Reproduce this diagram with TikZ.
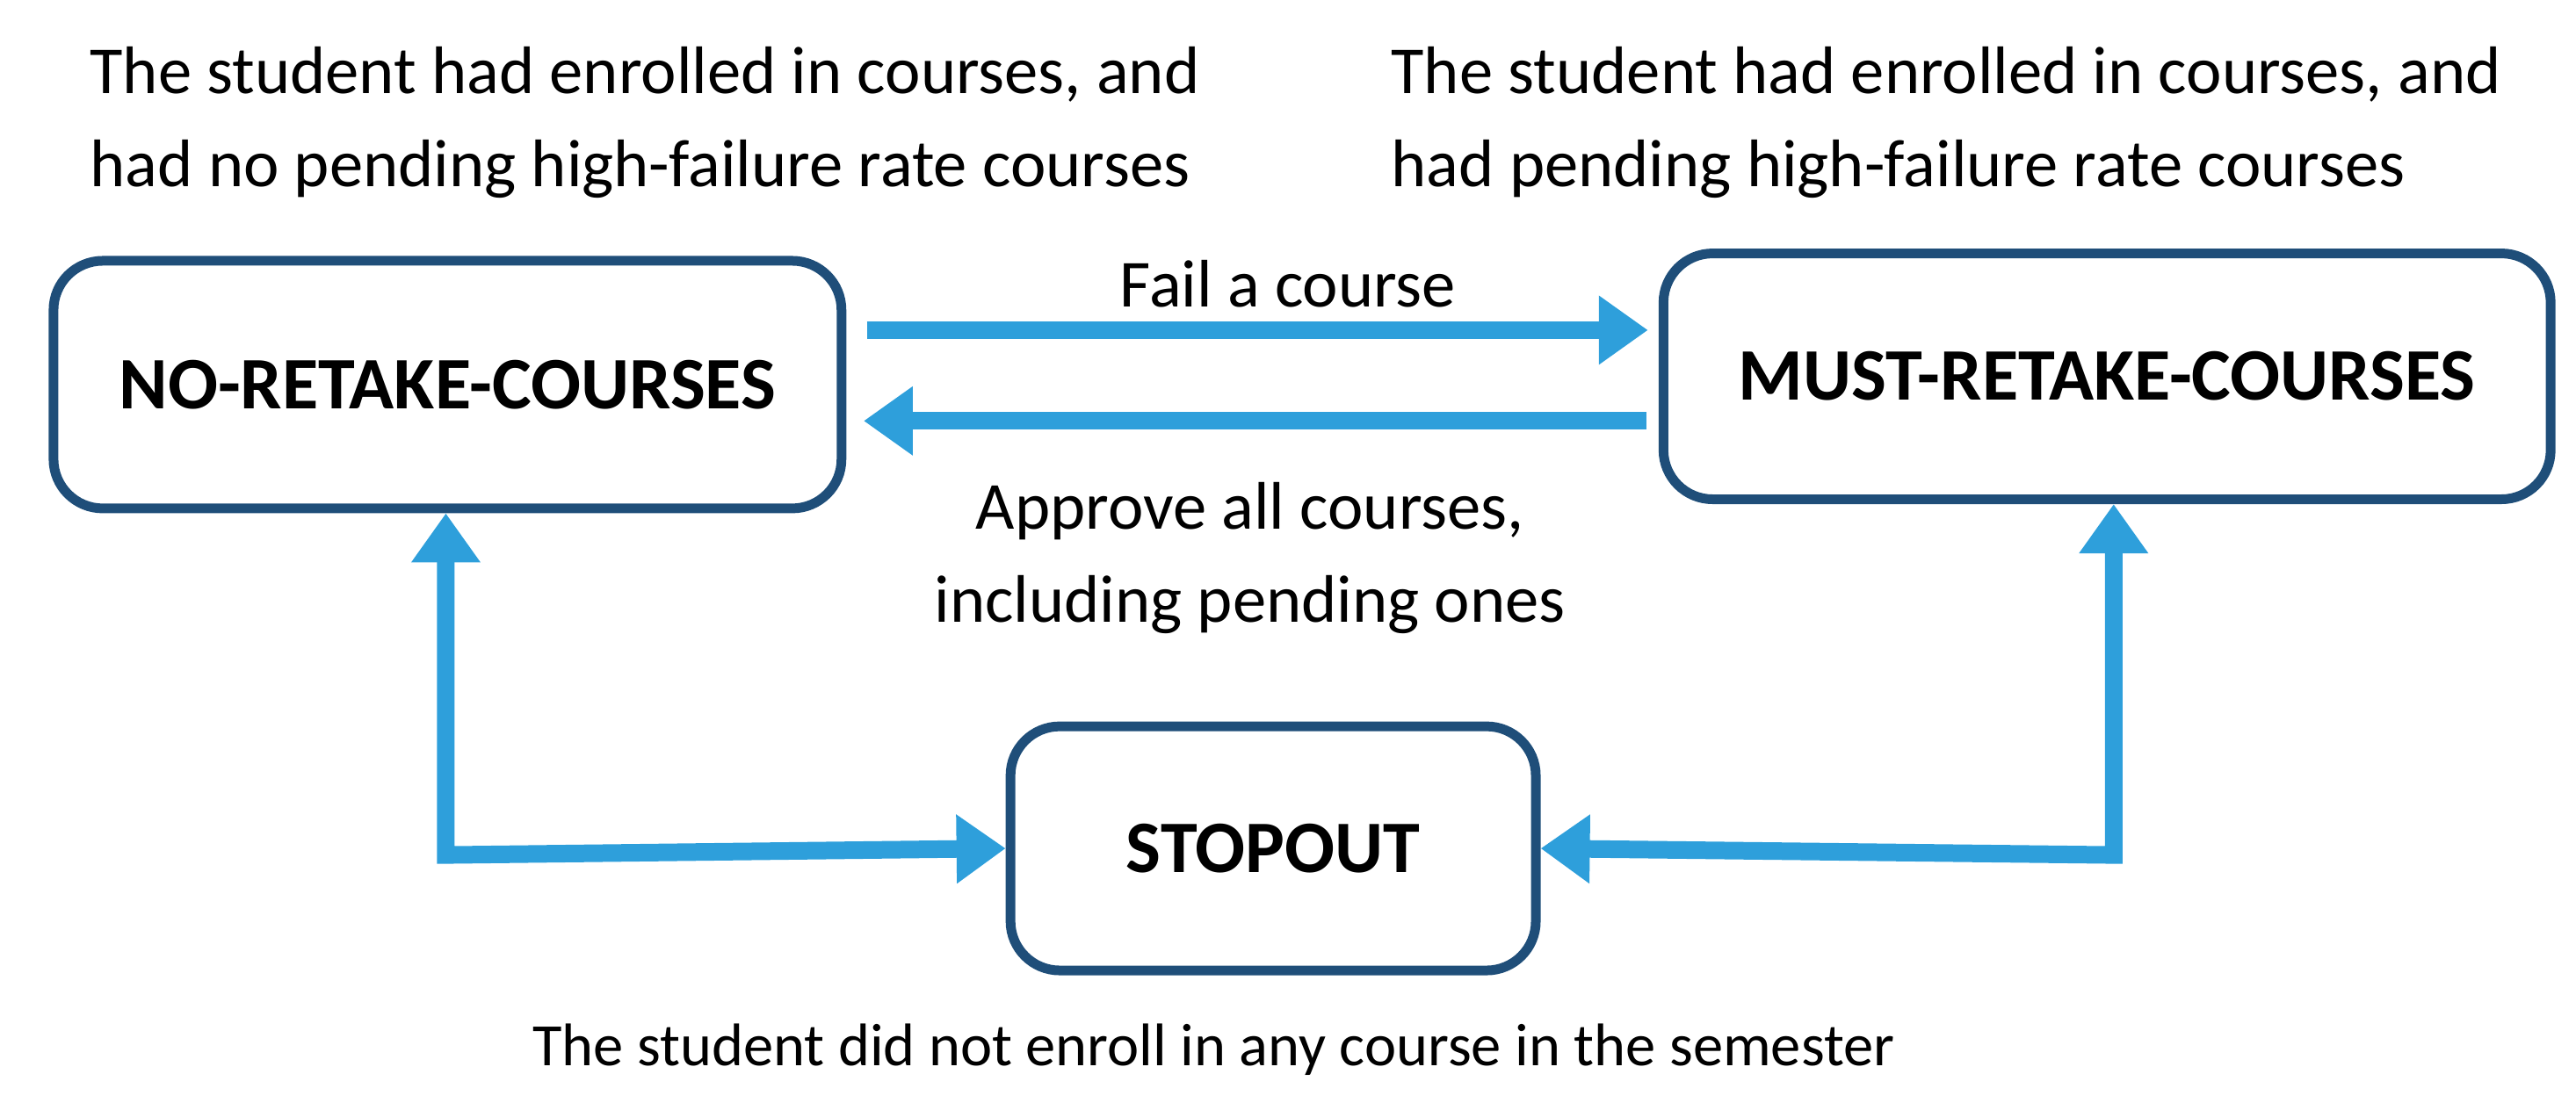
\documentclass[tikz,border=0pt]{standalone}
\usepackage{fontspec}
\setmainfont{Carlito}
\usetikzlibrary{arrows.meta}
\definecolor{boxc}{HTML}{1F4E79}
\definecolor{arr}{HTML}{2E9FDB}
\begin{document}
\begin{tikzpicture}[x=0.0188cm,y=-0.0188cm,
  st/.style={draw=boxc,line width=0.11cm,rounded corners=0.56cm,font=\fontsize{24}{28}\selectfont\bfseries,inner sep=0},
  ar/.style={draw=arr,line width=0.2cm,-{Triangle[length=0.56cm,width=0.75cm]}},
  lb/.style={font=\fontsize{21.8}{30}\selectfont,align=center}]
\useasboundingbox (0,0) rectangle (1560,668);
\node[st,minimum width=8.97cm,minimum height=2.82cm] (nr) at (271,233) {NO-RETAKE-COURSES};
\node[st,minimum width=10.1cm,minimum height=2.80cm] (mr) at (1276,228) {MUST-RETAKE-COURSES};
\node[st,minimum width=5.98cm,minimum height=2.78cm] (so) at (771,514) {STOPOUT};
\coordinate (a1) at (525,200); \coordinate (a2) at (998,200);
\coordinate (b1) at (997,255); \coordinate (b2) at (523,255);
\draw[ar] (a1) -- (a2);
\draw[ar] (b1) -- (b2);
\coordinate (lc) at (270,518); \coordinate (rc) at (1280,518);
\draw[ar,{Triangle[length=0.56cm,width=0.75cm]}-{Triangle[length=0.56cm,width=0.75cm]}] (nr.south -| lc) -- (lc) -- (so.west);
\draw[ar,{Triangle[length=0.56cm,width=0.75cm]}-{Triangle[length=0.56cm,width=0.75cm]}] (mr.south -| rc) -- (rc) -- (so.east);
\node[lb] (t1) at (780,172) {Fail a course};
\node[lb] (t2) at (757,338) {Approve all courses,\\including pending ones};
\node[lb,align=left,anchor=north west] (t3) at (48,22) {The student had enrolled in courses, and\\had no pending high-failure rate courses};
\node[lb,align=left,anchor=north west] (t4) at (836,22) {The student had enrolled in courses, and\\had pending high-failure rate courses};
\node[lb,font=\fontsize{19.5}{24}\selectfont] (t5) at (735,636) {The student did not enroll in any course in the semester};
\end{tikzpicture}
\end{document}
